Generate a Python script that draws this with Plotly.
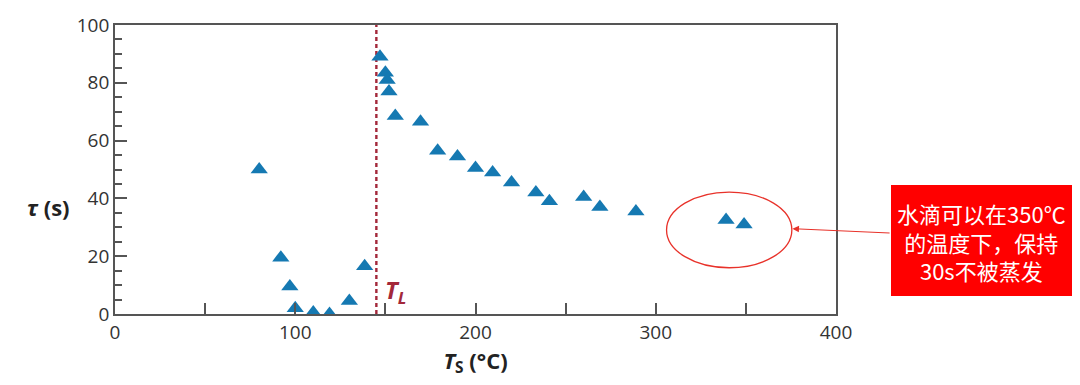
import plotly.graph_objects as go

# Data
ts_values = [80, 92, 97, 100, 110, 119, 130, 138.5, 147, 150, 151, 152, 155.5, 169.5, 179,
             190, 200, 209.5, 220, 233.5, 241, 260, 269, 289, 339, 349]
tau_values = [50, 19.5, 9.5, 2, 0.5, 0, 4.5, 16.5, 89, 83.5, 81, 77, 68.5, 66.5, 56.5,
              54.5, 50.5, 49, 45.5, 42, 39, 40.5, 37, 35.5, 32.5, 31]
x_tick_vals = [0, 100, 200, 300, 400]
y_tick_vals = [0, 20, 40, 60, 80, 100]
t_l = 145
note_text = "水滴可以在350℃<br>的温度下，保持<br>30s不被蒸发"

FONT = "Open Sans, Noto Sans, sans-serif"
AXIS_COLOR = "#555555"
TEXT_COLOR = "#333333"
DARK_RED = "#a3283a"

# page body has an 8px margin; layout numbers below are in figure pixels
OFF = 8
L, R, T, B = 115 - OFF, 836 - OFF, 25 - OFF, 314 - OFF
PW, PH = R - L, B - T


def px(xs):
    return (xs - OFF - L) / PW


def py(ys):
    return (B - (ys - OFF)) / PH


fig = go.Figure()
fig.add_trace(go.Scatter(
    x=ts_values, y=tau_values, mode="markers",
    marker=dict(symbol="triangle-up", size=15, color="#1579b2", line=dict(width=0)),
    showlegend=False, hoverinfo="x+y",
))

# T_L dashed line
fig.add_shape(type="line", xref="x", yref="y", x0=t_l, x1=t_l, y0=0, y1=100,
              line=dict(color=DARK_RED, width=2.4, dash="4px,3px"), layer="below")
fig.add_annotation(x=t_l + 3.5, y=8, xref="x", yref="y", xanchor="left", yanchor="middle",
                   text="<b><i>T<sub>L</sub></i></b>", showarrow=False,
                   font=dict(family=FONT, size=24, color=DARK_RED))

# Ellipse around the last points
fig.add_shape(type="circle", xref="x", yref="y", x0=306, x1=375.5, y0=16, y1=42.2,
              line=dict(color="#e8322a", width=1.3))

# Red note box
fig.add_shape(type="rect", xref="paper", yref="paper",
              x0=px(891), x1=px(1072), y0=py(296), y1=py(185),
              fillcolor="#ff0000", line=dict(width=0))
fig.add_annotation(xref="paper", yref="paper",
                   x=px((891 + 1072) / 2), y=py(241),
                   text=note_text, showarrow=False, align="center",
                   xanchor="center", yanchor="middle",
                   font=dict(family="Noto Sans CJK SC, sans-serif", size=22, color="white"))
# Arrow from box to ellipse
fig.add_annotation(xref="x", yref="y", x=375.8, y=29.5,
                   axref="x", ayref="y", ax=(891 - 116) / 1.8, ay=(314 - 233) / 2.89,
                   text="", showarrow=True, arrowhead=2, arrowsize=1.2, arrowwidth=1.1,
                   arrowcolor="#e8322a", standoff=0, startstandoff=0)

# Horizontal y-axis title
fig.add_annotation(xref="paper", yref="paper", x=px(48), y=py(207),
                   xanchor="center", yanchor="middle", showarrow=False,
                   text="<b><i>τ</i> (s)</b>",
                   font=dict(family=FONT, size=22, color="#222222"))

fig.update_xaxes(range=[0, 400], tickvals=x_tick_vals, ticks="inside", ticklen=0,
                 showgrid=False, zeroline=False, showline=True, linecolor=AXIS_COLOR,
                 linewidth=1.8, mirror=True, automargin=False,
                 minor=dict(dtick=50, ticks="inside", ticklen=11, tickcolor=AXIS_COLOR, tickwidth=1.5),
                 tickfont=dict(family=FONT, size=19, color=TEXT_COLOR),
                 title=dict(text="<b><i>T</i><sub>S</sub> (°C)</b>", standoff=4,
                            font=dict(family=FONT, size=22, color="#222222")))
fig.update_yaxes(range=[0, 100], tickvals=y_tick_vals, ticks="inside", ticklen=12,
                 tickcolor=AXIS_COLOR, tickwidth=1.5,
                 showgrid=False, zeroline=False, showline=True, linecolor=AXIS_COLOR,
                 linewidth=1.8, mirror=True, automargin=False,
                 minor=dict(dtick=5, ticks="inside", ticklen=7, tickcolor=AXIS_COLOR, tickwidth=1.5),
                 tickfont=dict(family=FONT, size=19, color=TEXT_COLOR))

fig.update_layout(width=1080, height=385,
                  margin=dict(l=L, r=1080 - R, t=T, b=385 - B),
                  plot_bgcolor="white", paper_bgcolor="white")

fig.write_html("out.html")
